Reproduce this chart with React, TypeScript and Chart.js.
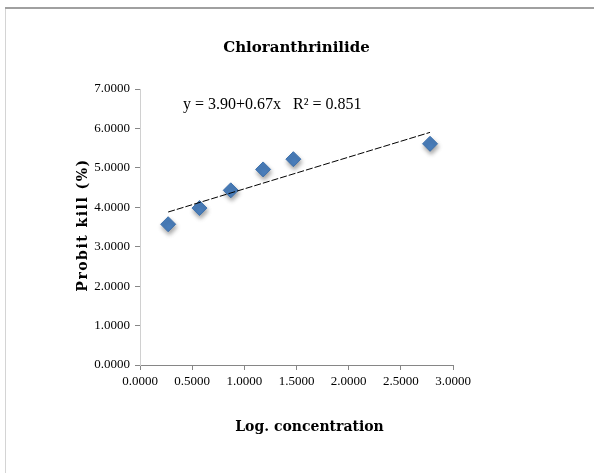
import React, { useEffect, useRef } from "react";
import { Chart, registerables } from "chart.js";

Chart.register(...registerables);

const logConcentration = [0.27, 0.57, 0.87, 1.18, 1.47, 2.78];
const probitKill = [3.57, 3.98, 4.43, 4.96, 5.22, 5.61];
const trendX = [0.27, 2.78];
const trendY = [3.88, 5.9];
const xTicks = [0, 0.5, 1, 1.5, 2, 2.5, 3];
const yTicks = [0, 1, 2, 3, 4, 5, 6, 7];
const chartTitle = "Chloranthrinilide";
const xTitle = "Log. concentration";
const yTitle = "Probit kill (%)";
const equation = "y = 3.90+0.67x   R\u00B2 = 0.851";

const framePlugin = {
  id: "frame",
  beforeDraw(chart: any) {
    const { ctx, width, height } = chart;
    ctx.save();
    ctx.fillStyle = "#ffffff";
    ctx.fillRect(0, 0, width, height);
    ctx.fillStyle = "#d4d4d4";
    ctx.fillRect(5, 7, 1, height - 7);
    ctx.fillStyle = "#a0a0a0";
    ctx.fillRect(5, 7, width - 5, 2);
    ctx.restore();
  },
  afterDraw(chart: any) {
    const { ctx, chartArea } = chart;
    const cx = (chartArea.left + chartArea.right) / 2;
    const cy = (chartArea.top + chartArea.bottom) / 2;
    ctx.save();
    ctx.fillStyle = "#000";
    ctx.textAlign = "center";
    ctx.textBaseline = "middle";
    ctx.font = "bold 15px 'DejaVu Serif'";
    ctx.fillText(chartTitle, cx, 48);
    ctx.font = "bold 14px 'DejaVu Serif'";
    ctx.fillText(xTitle, cx + 13, 427);
    ctx.save();
    ctx.translate(83, cy - 2);
    ctx.rotate(-Math.PI / 2);
    (ctx as any).letterSpacing = "1.5px";
    ctx.fillText(yTitle, 0, 0);
    ctx.restore();
    ctx.textAlign = "left";
    ctx.font = "16px 'Liberation Serif'";
    ctx.fillText(equation, 183, 105);
    ctx.restore();
  },
};

const shadowPlugin = {
  id: "markerShadow",
  beforeDatasetDraw(chart: any, args: any) {
    if (args.index === 1) {
      const ctx = chart.ctx;
      ctx.save();
      ctx.shadowColor = "rgba(0,0,0,0.35)";
      ctx.shadowBlur = 4;
      ctx.shadowOffsetX = 1;
      ctx.shadowOffsetY = 3;
    }
  },
  afterDatasetDraw(chart: any, args: any) {
    if (args.index === 1) chart.ctx.restore();
  },
};

export default function App() {
  const ref = useRef<HTMLCanvasElement>(null);
  useEffect(() => {
    if (!ref.current) return;
    const chart = new Chart(ref.current, {
      type: "scatter",
      data: {
        datasets: [
          {
            type: "line",
            data: trendX.map((x, i) => ({ x, y: trendY[i] })),
            borderColor: "#000",
            borderWidth: 1,
            borderDash: [7, 2],
            pointRadius: 0,
            fill: false,
          },
          {
            data: logConcentration.map((x, i) => ({ x, y: probitKill[i] })),
            pointStyle: "rectRot",
            pointRadius: 7.5,
            backgroundColor: "#4a7ebb",
            borderColor: "#3f72ad",
            borderWidth: 1,
          },
        ],
      },
      options: {
        responsive: false,
        animation: false,
        layout: { padding: { left: 0, top: 89, right: 141, bottom: 0 } },
        plugins: { legend: { display: false }, tooltip: { enabled: false }, title: { display: false } },
        scales: {
          x: {
            type: "linear",
            min: 0,
            max: 3,
            afterFit: (s: any) => { s.height = 108; },
            afterBuildTicks: (s: any) => { s.ticks = xTicks.map((v) => ({ value: v })); },
            ticks: {
              callback: (v: any) => Number(v).toFixed(4),
              font: { family: "'Liberation Serif'", size: 13 },
              color: "#000",
              padding: 4,
              maxRotation: 0,
            },
            grid: { drawOnChartArea: false, drawTicks: true, tickLength: 5, color: "#868686" },
            border: { color: "#868686", width: 1 },
          },
          y: {
            min: 0,
            max: 7,
            afterFit: (s: any) => { s.width = 140; },
            afterBuildTicks: (s: any) => { s.ticks = yTicks.map((v) => ({ value: v })); },
            ticks: {
              callback: (v: any) => Number(v).toFixed(4),
              font: { family: "'Liberation Serif'", size: 13 },
              color: "#000",
              padding: 5,
            },
            grid: { drawOnChartArea: false, drawTicks: true, tickLength: 5, color: "#868686" },
            border: { color: "#d0d0d0", width: 1 },
          },
        },
      },
      plugins: [framePlugin, shadowPlugin],
    } as any);
    return () => chart.destroy();
  }, []);
  return (
    <div style={{ position: "fixed", left: 0, top: 0, width: 594, height: 473 }}>
      <canvas ref={ref} width={594} height={473} style={{ display: "block" }} />
    </div>
  );
}
